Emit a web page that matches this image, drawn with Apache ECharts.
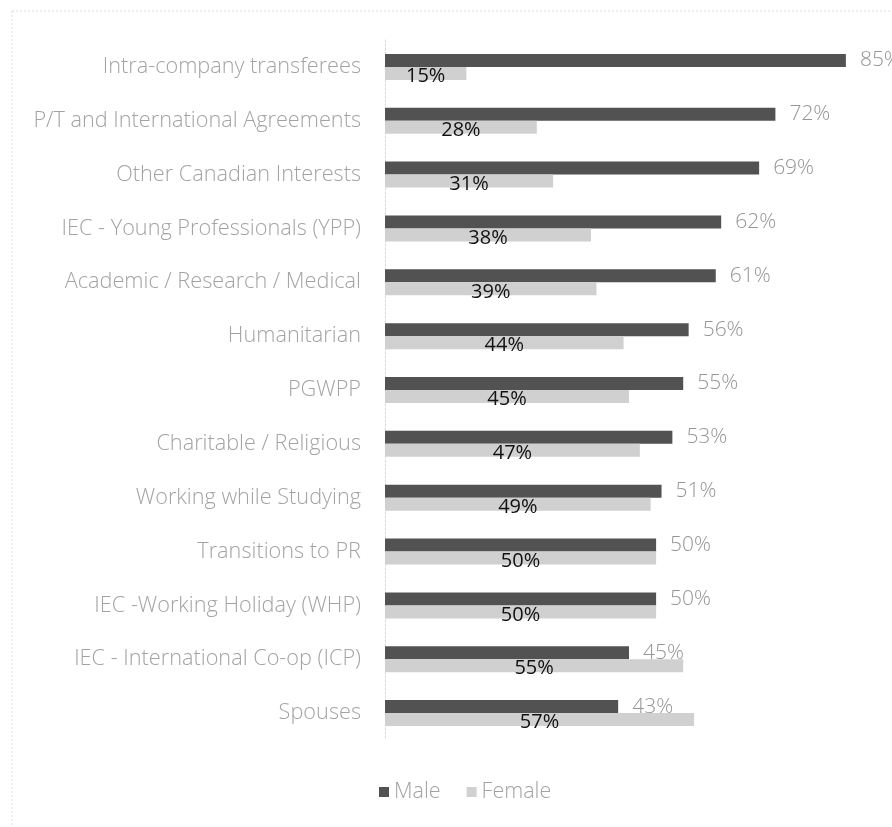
<!DOCTYPE html>
<html>
<head>
<meta charset="utf-8">
<script src="https://cdn.jsdelivr.net/npm/echarts@6/dist/echarts.min.js"></script>
<style>html,body{margin:0;padding:0;background:#fff}#c{width:892px;height:827px}</style>
</head>
<body>
<div id="c"></div>
<script>
const categories = ["Intra-company transferees","P/T and International Agreements","Other Canadian Interests","IEC - Young Professionals (YPP)","Academic / Research / Medical","Humanitarian","PGWPP","Charitable / Religious","Working while Studying","Transitions to PR","IEC -Working Holiday (WHP)","IEC - International Co-op (ICP)","Spouses"];
const maleValues = [85,72,69,62,61,56,55,53,51,50,50,45,43];
const femaleValues = [15,28,31,38,39,44,45,47,49,50,50,55,57];
const seriesNames = ["Male","Female"];

const font = "'Open Sans', sans-serif";
const chart = echarts.init(document.getElementById('c'));
chart.setOption({
  animation: false,
  backgroundColor: '#fff',
  graphic: [
    {type:'line', shape:{x1:12,y1:11,x2:892,y2:11}, style:{stroke:'#dcdcdc', lineWidth:1, lineDash:[2,2]}},
    {type:'line', shape:{x1:12,y1:11,x2:12,y2:827}, style:{stroke:'#dcdcdc', lineWidth:1, lineDash:[2,2]}}
  ],
  grid: {left: 385, top: 40, width: 488, height: 700, containLabel: false},
  xAxis: {type:'value', min:0, max:90, show:false},
  yAxis: {
    type:'category', data: categories, inverse:true,
    axisLine:{show:true, lineStyle:{color:'#dadada', type:[2,2]}},
    axisTick:{show:false},
    axisLabel:{color:'#a3a3a3', fontSize:21.7, fontWeight:300, fontFamily:font, margin:24}
  },
  legend: {
    data: seriesNames, bottom: 19, left: 374, itemWidth: 10, itemHeight: 10, itemGap: 26,
    icon: 'rect',
    textStyle:{color:'#a3a3a3', fontSize:21.5, fontWeight:300, fontFamily:font}
  },
  series: [
    {
      name: seriesNames[0], type:'bar', data: maleValues, barWidth: 13, barGap: '0%', barCategoryGap: '52%',
      itemStyle:{color:'#525252'},
      label:{show:true, position:'right', distance:14, formatter:'{c}%', color:'#959595', fontSize:21, fontWeight:300, fontFamily:font}
    },
    {
      name: seriesNames[1], type:'bar', data: femaleValues, barWidth: 13,
      itemStyle:{color:'#d0d0d0'},
      label:{show:true, position:'inside', offset:[0,3], formatter:'{c}%', color:'#111', fontSize:20, fontFamily:font}
    }
  ]
});
</script>
</body>
</html>
